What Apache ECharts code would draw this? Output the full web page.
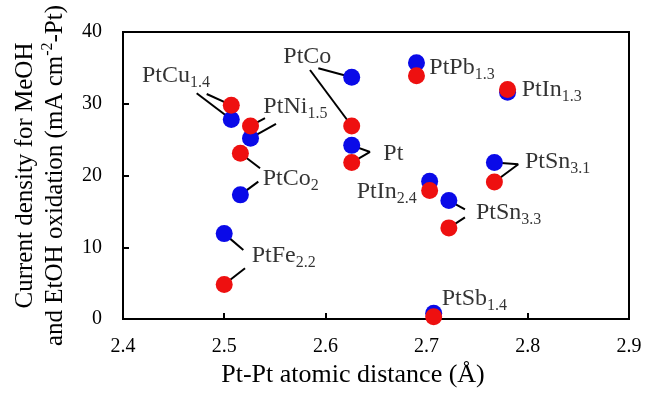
<!DOCTYPE html>
<html>
<head>
<meta charset="utf-8">
<script src="https://cdn.jsdelivr.net/npm/echarts@6/dist/echarts.min.js"></script>
<style>
html,body{margin:0;padding:0;background:#fff;}
#c{width:646px;height:396px;}
</style>
</head>
<body>
<div id="c"></div>
<script>
// ---- data ----
const catalysts   = ['PtCu', 'PtNi', 'PtCo', 'PtFe', 'PtCo', 'Pt', 'PtPb', 'PtIn', 'PtSn', 'PtIn', 'PtSn', 'PtSb'];
const catalystSub = ['1.4',  '1.5',  '2',    '2.2',  '',     '',   '1.3',  '1.3',  '3.1',  '2.4',  '3.3',  '1.4'];
const ptptDistance = [2.507, 2.526, 2.516, 2.500, 2.626, 2.626, 2.690, 2.780, 2.767, 2.703, 2.722, 2.707];
const meohCurrent  = [27.8, 25.2, 17.3, 11.9, 33.7, 24.2, 35.7, 31.6, 21.8, 19.2, 16.5, 0.8];
const etohCurrent  = [29.8, 26.9, 23.1, 4.8, 26.9, 21.8, 33.9, 32.0, 19.1, 17.9, 12.7, 0.3];
const xTickLabels = ['2.4', '2.5', '2.6', '2.7', '2.8', '2.9'];
const yTickLabels = ['0', '10', '20', '30', '40'];

// label anchors (data coords) for each catalyst
const labelX = [2.4188, 2.5387, 2.538, 2.5272, 2.5584, 2.6572, 2.7027, 2.794, 2.7972, 2.6309, 2.7488, 2.7149];
const labelY = [33.87, 29.59, 19.61, 8.81, 36.54, 22.97, 35.02, 31.92, 21.88, 17.74, 14.8, 2.76];

// leader lines: [startX, startY, catalyst index, series (0 = MeOH, 1 = EtOH)]
const leaders = [
  [2.4728, 31.46, 0, 0], [2.4827, 31.36, 0, 1],
  [2.5512, 27.18, 1, 0], [2.5403, 28.01, 1, 1],
  [2.5337, 19.14, 2, 0], [2.5354, 21.00, 2, 1],
  [2.5189, 9.62, 3, 0],  [2.5206, 7.07, 3, 1],
  [2.5930, 34.94, 4, 0], [2.5848, 34.70, 4, 1],
  [2.6441, 23.28, 5, 0], [2.6441, 23.28, 5, 1],
  [2.7906, 21.56, 8, 0], [2.7906, 21.56, 8, 1],
  [2.7379, 15.29, 10, 0], [2.7379, 14.17, 10, 1]
];

const FONT = "'Liberation Serif', 'Times New Roman', serif";
const BLUE = '#0a0ae8';
const RED = '#ee1010';

const series = [meohCurrent, etohCurrent];
const leaderData = leaders.map(l => ({
  coords: [[l[0], l[1]], [ptptDistance[l[2]], series[l[3]][l[2]]]]
}));

const chart = echarts.init(document.getElementById('c'), null, {renderer: 'canvas'});
chart.setOption({
  animation: false,
  backgroundColor: '#fff',
  grid: {left: 123, right: 17, top: 32, bottom: 77, show: true, borderColor: '#000', borderWidth: 2,
    containLabel: false, outerBoundsMode: 'none'},
  xAxis: {
    type: 'value', min: 2.4, max: 2.9, interval: 0.1,
    name: 'Pt-Pt atomic distance (Å)', nameLocation: 'middle', nameGap: 41,
    nameTextStyle: {fontFamily: FONT, fontSize: 26, color: '#000', padding: [0, 46, 0, 0]},
    axisLine: {lineStyle: {color: '#000', width: 2}},
    axisTick: {inside: true, length: 6, lineStyle: {color: '#000', width: 2}},
    axisLabel: {fontFamily: FONT, fontSize: 20, color: '#000', margin: 18,
      formatter: (v, i) => xTickLabels[i]},
    splitLine: {show: false}
  },
  yAxis: {
    type: 'value', min: 0, max: 40, interval: 10,
    name: '{a|Current density for MeOH}\n{a|and EtOH oxidation (mA cm}{s|-2}{a|-Pt)}',
    nameLocation: 'middle', nameGap: 53,
    nameTextStyle: {
      fontFamily: FONT, color: '#000',
      rich: {
        a: {fontFamily: FONT, fontSize: 25, lineHeight: 30, color: '#000'},
        s: {fontFamily: FONT, fontSize: 16, verticalAlign: 'top', color: '#000'}
      }
    },
    axisLine: {lineStyle: {color: '#000', width: 2}},
    axisTick: {inside: true, length: 6, lineStyle: {color: '#000', width: 2}},
    axisLabel: {fontFamily: FONT, fontSize: 20, color: '#000', margin: 21,
      formatter: (v, i) => yTickLabels[i]},
    splitLine: {show: false}
  },
  series: [
    {
      type: 'lines', coordinateSystem: 'cartesian2d', z: 1,
      lineStyle: {color: '#000', width: 2, opacity: 1},
      data: leaderData
    },
    {
      name: 'MeOH', type: 'scatter', z: 2, symbolSize: 17,
      itemStyle: {color: BLUE, opacity: 1},
      data: ptptDistance.map((x, i) => [x, meohCurrent[i]])
    },
    {
      name: 'EtOH', type: 'scatter', z: 3, symbolSize: 17,
      itemStyle: {color: RED, opacity: 1},
      data: ptptDistance.map((x, i) => [x, etohCurrent[i]])
    },
    {
      type: 'scatter', z: 4, symbolSize: 0, silent: true,
      data: labelX.map((x, i) => ({value: [x, labelY[i]], idx: i})),
      label: {
        show: true, position: 'right', distance: 0, align: 'left', verticalAlign: 'middle',
        formatter: p => {
          const i = p.dataIndex;
          return '{m|' + catalysts[i] + '}' + (catalystSub[i] ? '{b|' + catalystSub[i] + '}' : '');
        },
        rich: {
          m: {fontFamily: FONT, fontSize: 24, lineHeight: 30, color: '#000'},
          b: {fontFamily: FONT, fontSize: 16, verticalAlign: 'bottom', color: '#000'}
        }
      }
    }
  ]
});
</script>
</body>
</html>
